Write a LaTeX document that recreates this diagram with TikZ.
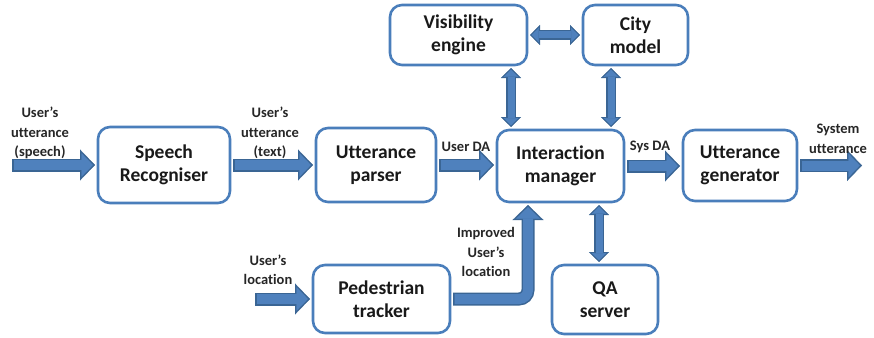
\documentclass[tikz,border=0pt]{standalone}
\usepackage{fontspec}
\setmainfont{Carlito}[Ligatures=NoCommon]
\usetikzlibrary{arrows.meta}

\definecolor{boxblue}{HTML}{4A7EBB}
\definecolor{arrowfill}{HTML}{4F81BD}
\definecolor{arrowedge}{HTML}{3A6594}
\definecolor{labelgray}{HTML}{262626}

\tikzset{
    box/.style={draw=boxblue, line width=2.6pt, rounded corners=12pt, fill=white,
        align=center, inner sep=0pt, outer sep=3pt, text=black!90,
        font=\bfseries\fontsize{19.5}{23}\selectfont},
    lbl/.style={align=center, inner sep=0pt, text=labelgray,
        font=\bfseries\fontsize{14.5}{19.5}\selectfont},
    bigedge/.style={line width=13pt, draw=arrowedge,
        -{Triangle[length=15pt,width=31pt,line width=0.3pt]}},
    bigfill/.style={line width=10pt, draw=arrowfill, shorten <=1.5pt, shorten >=2.1pt,
        -{Triangle[length=11.4pt,width=23.6pt,line width=0.3pt]}},
    smalledge/.style={line width=9.5pt, draw=arrowedge,
        {Triangle[length=10pt,width=20pt,line width=0.3pt]}-{Triangle[length=10pt,width=20pt,line width=0.3pt]}},
    smallfill/.style={line width=7pt, draw=arrowfill, shorten <=1.7pt, shorten >=1.7pt,
        {Triangle[length=7.1pt,width=14.2pt,line width=0.3pt]}-{Triangle[length=7.1pt,width=14.2pt,line width=0.3pt]}}
}
\newcommand{\bigarrow}[1]{\draw[bigedge] #1; \draw[bigfill] #1;}
\newcommand{\dblarrow}[1]{\draw[smalledge] #1; \draw[smallfill] #1;}

\begin{document}
\begin{tikzpicture}[x=1pt, y=-1pt]
    \useasboundingbox (0,0) rectangle (874,337);

    % Modules
    \node[box, minimum width=132pt, minimum height=76pt] (sr) at (164,165) {Speech\\Recogniser};
    \node[box, minimum width=120pt, minimum height=74pt] (up) at (376,165) {Utterance\\parser};
    \node[box, minimum width=127pt, minimum height=72pt] (im) at (560.5,166) {Interaction\\manager};
    \node[box, minimum width=114pt, minimum height=71pt] (ug) at (740,165.5) {Utterance\\generator};
    \node[box, minimum width=137pt, minimum height=60pt] (ve) at (458.5,35) {Visibility\\engine};
    \node[box, minimum width=105pt, minimum height=60pt] (cm) at (635.5,35) {City\\model};
    \node[box, minimum width=137pt, minimum height=68pt] (pt) at (381.5,299) {Pedestrian\\tracker};
    \node[box, minimum width=106pt, minimum height=69pt] (qa) at (605,299.5) {QA\\server};

    % Free ends
    \coordinate (speechin) at (12,165);
    \coordinate (locin) at (255,299);
    \coordinate (sysout) at (862,165.5);

    % Main chain
    \bigarrow{(speechin) -- (sr.west)}
    \bigarrow{(sr.east) -- (up.west)}
    \bigarrow{(up.east) -- (up.east -| im.west)}
    \bigarrow{(im.east) -- (im.east -| ug.west)}
    \bigarrow{(ug.east) -- (sysout)}

    % Pedestrian tracker
    \bigarrow{(locin) -- (pt.west)}
    \bigarrow{(pt.east) [rounded corners=9pt] -| ([xshift=34pt]im.south west)}

    % Two-way links
    \dblarrow{(ve.east) -- (cm.west)}
    \dblarrow{([xshift=17pt]im.north west) -- ([xshift=17pt]im.north west |- ve.south)}
    \dblarrow{([xshift=-16pt]im.north east) -- ([xshift=-16pt]im.north east |- cm.south)}
    \dblarrow{([xshift=-28pt]im.south east) -- ([xshift=-28pt]im.south east |- qa.north)}

    % Labels
    \node[lbl] (lspeech) at (40,133) {User’s\\utterance\\(speech)};
    \node[lbl] (ltext) at (270,133) {User’s\\utterance\\(text)};
    \node[lbl] (lda) at (466,147) {User DA};
    \node[lbl] (lsys) at (650,147) {Sys DA};
    \node[lbl] (lout) at (838,139) {System\\utterance};
    \node[lbl] (lloc) at (268,270) {User’s\\location};
    \node[lbl] (limp) at (486,252) {Improved\\User’s\\location};
\end{tikzpicture}
\end{document}
